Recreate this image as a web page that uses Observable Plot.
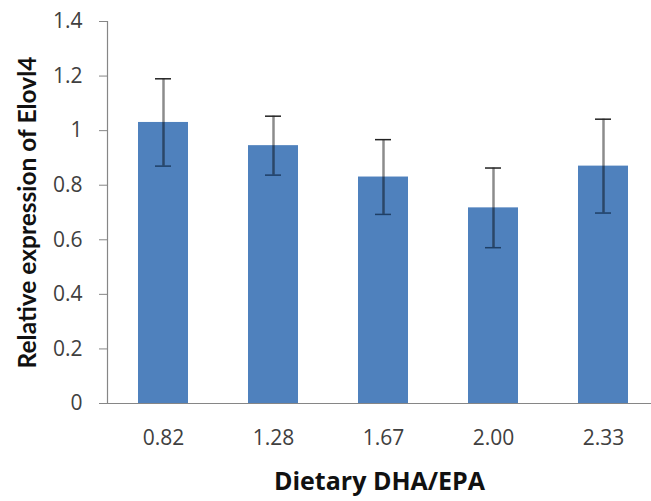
<!DOCTYPE html>
<html><head><meta charset="utf-8">
<script src="https://cdn.jsdelivr.net/npm/d3@7"></script>
<script src="https://cdn.jsdelivr.net/npm/@observablehq/plot@0.6"></script>
<style>body{margin:0;background:#fff;} svg{display:block;}</style>
</head><body><div id="c"></div>
<script>
const categories = ["0.82", "1.28", "1.67", "2.00", "2.33"];
const means = [1.03, 0.945, 0.83, 0.717, 0.87];
const errors = [0.16, 0.108, 0.137, 0.146, 0.172];
const yTicks = [0, 0.2, 0.4, 0.6, 0.8, 1, 1.2, 1.4];

const data = categories.map((c, i) => ({c, m: means[i], lo: means[i] - errors[i], hi: means[i] + errors[i]}));
const tickFont = "'Open Sans', sans-serif";

const chart = Plot.plot({
  width: 651, height: 501,
  marginLeft: 107, marginRight: 0, marginTop: 21, marginBottom: 98,
  style: {fontFamily: tickFont, background: "#fff"},
  x: {domain: categories, range: [108, 658], paddingInner: 0.545, paddingOuter: 0.2725, label: null},
  y: {domain: [0, 1.4], label: null},
  marks: [
    Plot.barY(data, {x: "c", y: "m", fill: "#4F81BD"}),
    Plot.ruleY([0], {stroke: "#868686", strokeWidth: 1.2}),
    Plot.frame({anchor: "left", stroke: "#868686", strokeWidth: 1.2}),
    Plot.ruleX(data, {x: "c", y1: "lo", y2: "hi", stroke: "#000", strokeOpacity: 0.45, strokeWidth: 2.5}),
    Plot.tickY(data, {x: "c", y: "hi", stroke: "#222", strokeWidth: 1.5, inset: 17}),
    Plot.tickY(data, {x: "c", y: "lo", stroke: "#1f3f66", strokeWidth: 1.5, inset: 17}),
    Plot.axisY({ticks: yTicks, tickFormat: d => String(d), tickSize: 8, tickPadding: 17, stroke: "#868686", fill: "#404040", fontSize: 21, label: null}),
    Plot.axisY({ticks: [], label: "Relative expression of Elovl4", labelArrow: "none", labelAnchor: "center", labelOffset: 89, fontFamily: "Lato, sans-serif", fontSize: 24.5, fontWeight: "bold", fill: "#111"}),
    Plot.axisX({tickSize: 0, tickPadding: 27, fill: "#404040", fontSize: 21, label: null}),
    Plot.axisX({ticks: [], label: "Dietary DHA/EPA", labelArrow: "none", labelAnchor: "center", labelOffset: 86, fontSize: 25, fontWeight: "bold", fill: "#111"})
  ]
});
document.getElementById("c").appendChild(chart);
</script></body></html>
